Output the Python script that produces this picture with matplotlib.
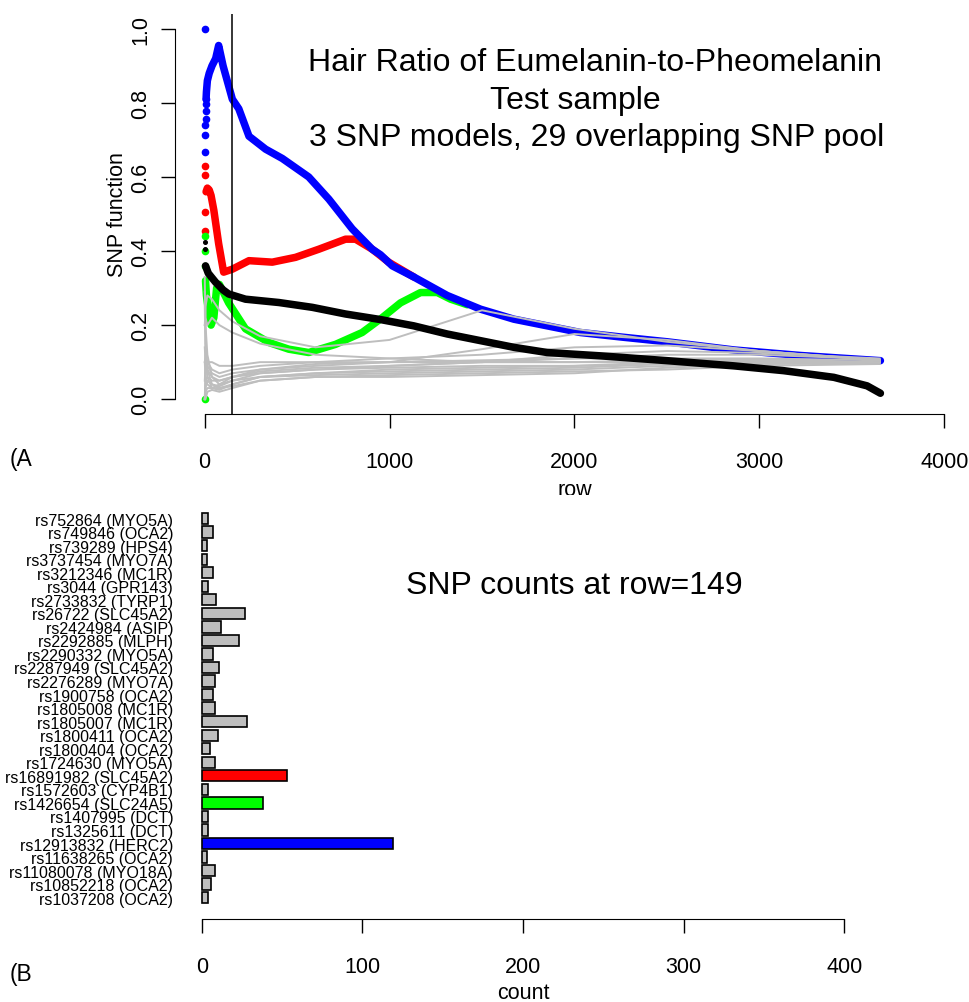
import matplotlib
matplotlib.use("Agg")
import matplotlib.pyplot as plt

plt.rcParams['font.family'] = ['Liberation Sans', 'DejaVu Sans']

# ---------------- Panel A data ----------------
blue_early_x = [1, 2, 3, 4, 5, 6, 7, 8]
blue_early_y = [1.0, 0.667, 0.714, 0.739, 0.757, 0.779, 0.797, 0.81]
blue_x = [8, 10, 15, 25, 40, 60, 76, 100, 130, 150, 185, 240, 330, 420, 563, 672,
          798, 906, 951, 1015, 1131, 1312, 1492, 1672, 1852, 2032, 2249, 2501,
          2861, 3222, 3654]
blue_y = [0.81, 0.83, 0.86, 0.88, 0.90, 0.92, 0.955, 0.90, 0.846, 0.81, 0.784, 0.71,
          0.675, 0.65, 0.60, 0.54, 0.46, 0.405, 0.39, 0.36, 0.33, 0.28, 0.243,
          0.216, 0.198, 0.18, 0.168, 0.155, 0.133, 0.118, 0.104]

red_early_x = [1, 2, 3, 4]
red_early_y = [0.63, 0.604, 0.505, 0.455]
red_x = [8, 15, 25, 35, 50, 76, 103, 150, 240, 366, 492, 618, 762, 816, 906, 995, 1131]
red_y = [0.56, 0.57, 0.565, 0.55, 0.51, 0.42, 0.343, 0.351, 0.374, 0.37, 0.383,
         0.405, 0.432, 0.432, 0.405, 0.37, 0.33]

green_early_x = [1, 2, 3, 4]
green_early_y = [0.0, 0.44, 0.40, 0.36]
green_x = [5, 10, 20, 35, 50, 65, 80, 130, 221, 348, 455, 563, 708, 852, 960,
           1059, 1168, 1258, 1330, 1420]
green_y = [0.32, 0.28, 0.24, 0.20, 0.22, 0.30, 0.31, 0.26, 0.19, 0.153, 0.135,
           0.126, 0.148, 0.18, 0.22, 0.26, 0.288, 0.288, 0.27, 0.255]

black_early_x = [2, 3]
black_early_y = [0.425, 0.405]
black_x = [5, 20, 59, 100, 130, 221, 402, 582, 762, 951, 1131, 1312, 1492, 1672,
           1852, 2141, 2501, 2861, 3131, 3402, 3582, 3654]
black_y = [0.36, 0.34, 0.316, 0.295, 0.284, 0.27, 0.261, 0.248, 0.23, 0.215,
           0.198, 0.176, 0.158, 0.14, 0.126, 0.117, 0.104, 0.09, 0.077, 0.059,
           0.036, 0.016]

gray_x = [1, 5, 15, 40, 80, 150, 300, 600, 1000, 1500, 2000, 2500, 3000, 3650]
gray_01 = [0.20, 0.25, 0.28, 0.27, 0.24, 0.21, 0.17, 0.14, 0.16, 0.24, 0.19, 0.155, 0.13, 0.105]
gray_02 = [0.10, 0.12, 0.10, 0.08, 0.07, 0.08, 0.09, 0.10, 0.10, 0.135, 0.176, 0.16, 0.13, 0.104]
gray_03 = [0.0, 0.05, 0.06, 0.05, 0.05, 0.06, 0.07, 0.08, 0.09, 0.10, 0.12, 0.13, 0.125, 0.11]
gray_04 = [0.33, 0.15, 0.08, 0.04, 0.03, 0.04, 0.06, 0.07, 0.08, 0.085, 0.09, 0.10, 0.105, 0.10]
gray_05 = [0.0, 0.03, 0.05, 0.04, 0.035, 0.05, 0.07, 0.08, 0.085, 0.09, 0.09, 0.095, 0.10, 0.10]
gray_06 = [0.25, 0.12, 0.06, 0.03, 0.025, 0.04, 0.06, 0.065, 0.07, 0.075, 0.08, 0.09, 0.095, 0.098]
gray_07 = [0.0, 0.0, 0.02, 0.025, 0.02, 0.03, 0.05, 0.06, 0.065, 0.07, 0.075, 0.08, 0.09, 0.095]
gray_08 = [0.14, 0.10, 0.08, 0.06, 0.05, 0.06, 0.08, 0.09, 0.10, 0.105, 0.11, 0.11, 0.11, 0.105]
gray_09 = [0.0, 0.08, 0.09, 0.07, 0.06, 0.07, 0.08, 0.095, 0.10, 0.10, 0.10, 0.105, 0.108, 0.10]
gray_10 = [0.20, 0.20, 0.12, 0.06, 0.04, 0.05, 0.06, 0.07, 0.075, 0.08, 0.085, 0.095, 0.10, 0.10]
gray_11 = [0.0, 0.02, 0.03, 0.03, 0.03, 0.035, 0.05, 0.06, 0.06, 0.065, 0.07, 0.085, 0.095, 0.10]
gray_12 = [0.29, 0.22, 0.20, 0.22, 0.20, 0.18, 0.15, 0.12, 0.11, 0.10, 0.10, 0.10, 0.10, 0.10]
gray_13 = [0.10, 0.06, 0.04, 0.03, 0.04, 0.06, 0.075, 0.085, 0.09, 0.10, 0.11, 0.12, 0.12, 0.108]
gray_14 = [0.05, 0.09, 0.10, 0.10, 0.09, 0.09, 0.10, 0.10, 0.11, 0.12, 0.14, 0.145, 0.13, 0.106]
gray_series = [gray_01, gray_02, gray_03, gray_04, gray_05, gray_06, gray_07,
               gray_08, gray_09, gray_10, gray_11, gray_12, gray_13, gray_14]

cut_row = 149
title_lines = ["Hair Ratio of Eumelanin-to-Pheomelanin", "Test sample",
               "3 SNP models, 29 overlapping SNP pool"]

# ---------------- Panel B data ----------------
snp_labels = ["rs1037208 (OCA2)", "rs10852218 (OCA2)", "rs11080078 (MYO18A)",
              "rs11638265 (OCA2)", "rs12913832 (HERC2)", "rs1325611 (DCT)",
              "rs1407995 (DCT)", "rs1426654 (SLC24A5)", "rs1572603 (CYP4B1)",
              "rs16891982 (SLC45A2)", "rs1724630 (MYO5A)", "rs1800404 (OCA2)",
              "rs1800411 (OCA2)", "rs1805007 (MC1R)", "rs1805008 (MC1R)",
              "rs1900758 (OCA2)", "rs2276289 (MYO7A)", "rs2287949 (SLC45A2)",
              "rs2290332 (MYO5A)", "rs2292885 (MLPH)", "rs2424984 (ASIP)",
              "rs26722 (SLC45A2)", "rs2733832 (TYRP1)", "rs3044 (GPR143)",
              "rs3212346 (MC1R)", "rs3737454 (MYO7A)", "rs739289 (HPS4)",
              "rs749846 (OCA2)", "rs752864 (MYO5A)"]
snp_counts = [4, 6, 8, 3, 119, 4, 4, 38, 4, 53, 8, 5, 10, 28, 8, 7, 8, 11, 7, 23,
              12, 27, 9, 4, 7, 3, 3, 7, 4]
highlight = {"rs12913832 (HERC2)": "#0000FF", "rs16891982 (SLC45A2)": "#FF0000",
             "rs1426654 (SLC24A5)": "#00FF00"}

W, H = 970, 1003
fig = plt.figure(figsize=(W / 100, H / 100), dpi=100)

# ---------------- Panel A ----------------
axA = fig.add_axes([175 / W, 1 - 415 / H, (974 - 175) / W, 400 / H])
axA.set_xlim(-160, 4160)
axA.set_ylim(-0.04, 1.04)
for s in ("top", "right"):
    axA.spines[s].set_visible(False)
axA.spines["left"].set_bounds(0, 1)
axA.spines["bottom"].set_bounds(0, 4000)
axA.set_xticks([0, 1000, 2000, 3000, 4000])
axA.set_yticks([0.0, 0.2, 0.4, 0.6, 0.8, 1.0])
axA.set_yticklabels(["0.0", "0.2", "0.4", "0.6", "0.8", "1.0"])
axA.tick_params(direction="out", length=10, width=1, labelsize=15.5)
axA.tick_params(axis="x", pad=17)
axA.tick_params(axis="y", pad=7, labelrotation=90)
for lab in axA.get_yticklabels():
    lab.set_va("center")

lw = 5.4
axA.plot(red_x, red_y, color="#FF0000", lw=lw, solid_capstyle="round", zorder=2)
axA.plot(red_early_x, red_early_y, "o", color="#FF0000", ms=4.5, zorder=2)
axA.plot(green_x, green_y, color="#00FF00", lw=lw, solid_capstyle="round", zorder=2)
axA.plot(green_early_x, green_early_y, "o", color="#00FF00", ms=4.5, zorder=2)
axA.plot(blue_x, blue_y, color="#0000FF", lw=lw, solid_capstyle="round", zorder=3)
axA.plot(blue_early_x, blue_early_y, "o", color="#0000FF", ms=4.5, zorder=3)
for g in gray_series:
    axA.plot(gray_x, g, color="#BEBEBE", lw=1.4, zorder=4)
axA.plot(black_x, black_y, color="black", lw=lw, solid_capstyle="round", zorder=5)
axA.plot(black_early_x, black_early_y, "o", color="black", ms=2.6, zorder=5)
axA.axvline(cut_row, color="black", lw=1.1, zorder=6)

axA.text(2110, 0.91, title_lines[0], ha="center", va="center", fontsize=23)
axA.text(2005, 0.807, title_lines[1], ha="center", va="center", fontsize=23)
axA.text(2120, 0.707, title_lines[2], ha="center", va="center", fontsize=23)
axA.set_ylabel("SNP function", fontsize=15.5, labelpad=2)
axA.set_xlabel("row", fontsize=15.5, labelpad=5)

# ---------------- Panel B ----------------
axB = fig.add_axes([176 / W, 1 - 920 / H, 694 / W, 424 / H])
ypos = list(range(len(snp_labels)))
colors = [highlight.get(l, "#BEBEBE") for l in snp_labels]
axB.barh(ypos, snp_counts, height=0.833, color=colors, edgecolor="black", lw=1.2)
axB.set_xlim(-16, 416)
axB.set_ylim(-1.575, len(snp_labels) - 1 + 1.74)
for s in ("top", "right", "left"):
    axB.spines[s].set_visible(False)
axB.spines["bottom"].set_bounds(0, 400)
axB.set_xticks([0, 100, 200, 300, 400])
axB.tick_params(axis="x", direction="out", length=10, width=1, labelsize=15.5, pad=17)
axB.set_yticks(ypos)
axB.set_yticklabels(snp_labels, fontsize=11.5)
axB.tick_params(axis="y", length=0, pad=2)
axB.set_xlabel("count", fontsize=15.5, labelpad=3)
axB.text(232, 23.1, "SNP counts at row=%d" % cut_row, ha="center", va="center",
         fontsize=23)

fig.text(10 / W, 1 - 460 / H, "(A", ha="left", va="center", fontsize=16.5)
fig.text(10 / W, 1 - 975 / H, "(B", ha="left", va="center", fontsize=16.5)

fig.savefig("out.png", dpi=100)
